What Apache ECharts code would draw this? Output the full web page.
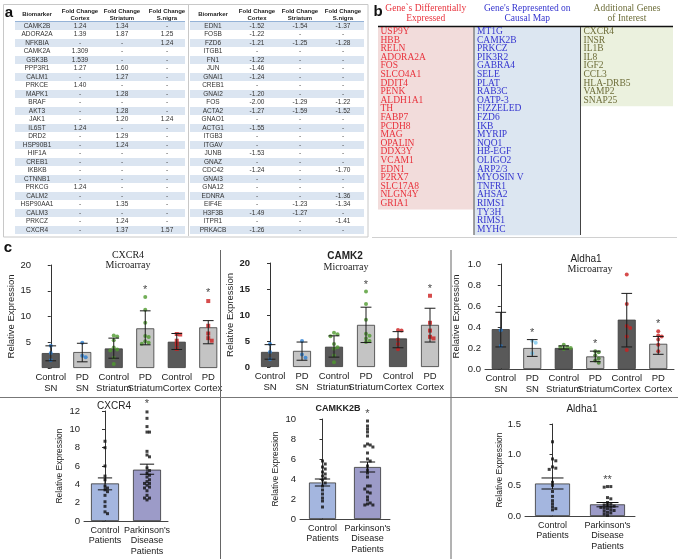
<!DOCTYPE html>
<html><head><meta charset="utf-8">
<script src="https://cdn.jsdelivr.net/npm/echarts/dist/echarts.min.js"></script>
<style>html,body{margin:0;padding:0;background:#fff}#c{width:678px;height:559px}</style>
</head><body><div id="c"></div>
<script>
// ---------- Panel a: fold-change tables ----------
const TABLE_HEADERS = ['Biomarker', 'Fold Change\nCortex', 'Fold Change\nStriatum', 'Fold Change\nS.nigra'];
const TL_BIOMARKER = ['CAMK2B','ADORA2A','NFKBIA','CAMK2A','GSK3B','PPP3R1','CALM1','PRKCE','MAPK1','BRAF','AKT3','JAK1','IL6ST','DRD2','HSP90B1','HIF1A','CREB1','IKBKB','CTNNB1','PRKCG','CALM2','HSP90AA1','CALM3','PRKCZ','CXCR4'];
const TL_CORTEX   = ['1.24','1.39','-','1.309','1.539','1.27','-','1.40','-','-','-','-','1.24','-','-','-','-','-','-','1.24','-','-','-','-','-'];
const TL_STRIATUM = ['1.34','1.87','-','-','-','1.60','1.27','-','1.28','-','1.28','1.20','-','1.29','1.24','-','-','-','-','-','-','1.35','-','1.24','1.37'];
const TL_SNIGRA   = ['-','1.25','1.24','-','-','-','-','-','-','-','-','1.24','-','-','-','-','-','-','-','-','-','-','-','-','1.57'];
const TR_BIOMARKER = ['EDN1','FOSB','FZD6','ITGB1','FN1','JUN','GNAI1','CREB1','GNAI2','FOS','ACTA2','GNAO1','ACTG1','ITGB3','ITGAV','JUNB','GNAZ','CDC42','GNAI3','GNA12','EDNRA','EIF4E','H3F3B','ITPR1','PRKACB'];
const TR_CORTEX   = ['-1.52','-1.22','-1.21','-','-1.22','-1.46','-1.24','-','-1.20','-2.00','-1.27','-','-1.55','-','-','-1.53','-','-1.24','-','-','-','-','-1.49','-','-1.26'];
const TR_STRIATUM = ['-1.54','-','-1.25','-','-','-','-','-','-','-1.29','-1.59','-','-','-','-','-','-','-','-','-','-','-1.23','-1.27','-','-'];
const TR_SNIGRA   = ['-1.37','-','-1.28','-','-','-','-','-','-','-1.22','-1.52','-','-','-','-','-','-','-1.70','-','-','-1.36','-1.34','-','-1.41','-'];

// ---------- Panel b: gene lists ----------
const LIST_HEADERS = ['Gene`s Differentially\nExpressed', "Gene's Represented on\nCausal Map", 'Additional Genes\nof Interest'];
const GENES_DIFF = ['USP9Y','HBB','RELN','ADORA2A','FOS','SLCO4A1','DDIT4','PENK','ALDH1A1','TH','FABP7','PCDH8','MAG','OPALIN','DDX3Y','VCAM1','EDN1','P2RX7','SLC17A8','NLGN4Y','GRIA1'];
const GENES_CAUSAL = ['MT1G','CAMK2B','PRKCZ','PIK3R2','GABRA4','SELE','PLAT','RAB3C','OATP-3','FIZZELED','FZD6','IKB','MYRIP','NQO1','HB-EGF','OLIGO2','ARP2/3','MYOSIN V','TNFR1','AHSA2','RIMS1','TY3H','RIMS1','MYHC'];
const GENES_EXTRA = ['CXCR4','INSR','IL1B','IL8','IGF2','CCL3','HLA-DRB5','VAMP2','SNAP25'];

// ---------- Panel c: microarray ----------
const MICRO_CATS = ['Control\nSN','PD\nSN','Control\nStriatum','PD\nStriatum','Control\nCortex','PD\nCortex'];
const CXCR4_MEAN = [2.9, 3.1, 3.8, 7.7, 5.1, 7.9];
const CXCR4_LOW  = [1.4, 1.2, 1.9, 4.5, 3.6, 4.7];
const CXCR4_HIGH = [4.3, 4.8, 5.8, 11.1, 6.7, 9.2];
const CXCR4_DOTS = [[4.3,2.9,1.5],[4.9,2.4,2.1],[6.3,6.1,5.4,4.0,3.6,3.4,2.0,0.8],[13.8,11.3,8.8,6.2,6.0,5.2,4.9,4.7],[6.6,6.5,5.3,4.6,3.7],[13.0,8.2,6.7,5.8,5.3]];
const CXCR4_STARS = [null,null,null,15.7,null,15.2];

const CAMK2_MEAN = [2.9, 3.1, 3.9, 8.1, 5.5, 8.1];
const CAMK2_LOW  = [1.5, 1.3, 1.9, 4.7, 3.7, 4.8];
const CAMK2_HIGH = [4.3, 4.8, 6.0, 11.5, 6.8, 11.3];
const CAMK2_DOTS = [[4.4,2.9,1.5],[5.0,2.4,1.8],[6.6,6.3,5.9,4.4,3.8,3.5,2.2,0.9],[14.5,12.1,9.1,6.4,6.0,5.5,5.0,4.8],[7.1,7.0,5.3,4.4,3.4],[13.7,8.5,7.0,5.8,5.5]];
const CAMK2_STARS = [null,null,null,16.4,null,15.6];

const ALDHA_MEAN = [0.38, 0.20, 0.20, 0.12, 0.47, 0.24];
const ALDHA_LOW  = [0.21, 0.12, 0.19, 0.07, 0.21, 0.14];
const ALDHA_HIGH = [0.54, 0.28, 0.22, 0.17, 0.72, 0.31];
const ALDHA_DOTS = [[0.37,0.22],[0.27,0.25,0.15],[0.23,0.21,0.21,0.20,0.19],[0.17,0.16,0.13,0.10,0.08,0.06],[0.90,0.62,0.41,0.39,0.31,0.18],[0.36,0.32,0.31,0.28,0.23,0.17]];
const ALDHA_STARS = [null,0.37,null,0.27,null,0.46];

// ---------- Panel c: patients ----------
const PATIENT_CATS = ['Control\nPatients', "Parkinson's\nDisease\nPatients"];
const P_CXCR4_MEAN = [4.1, 5.6];
const P_CXCR4_LOW  = [3.4, 5.1];
const P_CXCR4_HIGH = [4.7, 6.2];
const P_CXCR4_DOTS = [[8.7,8.0,6.0,4.9,4.5,3.8,3.6,3.4,3.2,2.8,2.1,1.6,1.0,0.8],[11.9,11.2,10.3,9.7,9.7,7.6,7.2,7.0,5.8,5.5,5.2,5.0,4.8,4.5,4.3,4.1,4.1,3.9,3.7,3.6,3.3,2.8,2.5,2.5,2.3]];
const P_CXCR4_STARS = [null, 13.1];

const P_CAMKK2B_MEAN = [3.65, 5.2];
const P_CAMKK2B_LOW  = [3.3, 4.7];
const P_CAMKK2B_HIGH = [4.0, 5.7];
const P_CAMKK2B_DOTS = [[5.8,5.5,5.2,5.0,4.7,4.5,4.3,4.1,3.9,3.6,3.3,2.9,2.5,2.1,1.8,1.2],[9.8,9.3,9.0,8.7,8.3,7.5,7.4,7.3,7.2,6.6,6.0,5.8,5.3,4.9,4.6,4.2,3.3,3.3,3.0,2.7,2.6,2.2,1.9,1.6,1.5,1.4,1.4]];
const P_CAMKK2B_STARS = [null, 10.8];

const P_ALDHA_MEAN = [0.53, 0.19];
const P_ALDHA_LOW  = [0.44, 0.15];
const P_ALDHA_HIGH = [0.62, 0.22];
const P_ALDHA_DOTS = [[1.21,0.93,0.90,0.80,0.78,0.76,0.55,0.50,0.40,0.32,0.25,0.20,0.15,0.12,0.10],[0.48,0.48,0.47,0.30,0.28,0.22,0.20,0.18,0.17,0.16,0.15,0.14,0.13,0.12,0.10,0.09,0.08,0.06,0.05,0.03,0.01]];
const P_ALDHA_STARS = [null, 0.64];

// ================= drawing =================
const SANS = '"Liberation Sans", Arial, sans-serif';
const SERIF = '"Liberation Serif", "Times New Roman", serif';
const graphics = [];
function txt(x, y, text, style) {
  graphics.push({type:'text', x:x, y:y, silent:true, z:10,
    style:Object.assign({text:text, fill:'#333', font:'6.5px ' + SANS, textAlign:'center', textVerticalAlign:'middle'}, style || {})});
}
function line(x1, y1, x2, y2, stroke, lw) {
  graphics.push({type:'line', silent:true, z:5, shape:{x1:x1, y1:y1, x2:x2, y2:y2}, style:{stroke:stroke, lineWidth:lw || 1}});
}
function rect(x, y, w, h, fill, stroke) {
  graphics.push({type:'rect', silent:true, z:1, shape:{x:x, y:y, width:w, height:h}, style:{fill:fill || 'none', stroke:stroke || null, lineWidth:1}});
}

// Panel a
rect(3.5, 4.5, 364.5, 232.5, 'none', '#c8c8c8');
line(188.5, 5, 188.5, 236, '#c8c8c8', 1);
txt(9, 13, 'a', {font:'bold 15px ' + SANS, fill:'#111'});
const ROW0 = 21.5, ROWH = 8.5;
function drawTable(cols, shadeX0, shadeX1, columns) {
  TABLE_HEADERS.forEach((h, j) => txt(cols[j], 14.5, h, {font:'bold 6px ' + SANS, lineHeight:7, fill:'#222'}));
  line(shadeX0, ROW0, shadeX1, ROW0, '#95b3d7', 1);
  columns[0].forEach((_, i) => {
    if (i % 2 === 0) rect(shadeX0, ROW0 + i * ROWH + 0.5, shadeX1 - shadeX0, ROWH - 0.5, '#dbe5f1');
    columns.forEach((col, j) => txt(cols[j], ROW0 + i * ROWH + ROWH / 2 + 0.3, col[i]));
  });
}
drawTable([37, 80, 122, 167], 15, 185, [TL_BIOMARKER, TL_CORTEX, TL_STRIATUM, TL_SNIGRA]);
drawTable([213, 257, 300, 343], 190, 364, [TR_BIOMARKER, TR_CORTEX, TR_STRIATUM, TR_SNIGRA]);

// Panel b
txt(378, 12, 'b', {font:'bold 15px ' + SANS, fill:'#111'});
const LIST_COLS = [
  {x0:378, x1:473.5, fill:'#f2dcdb', color:'#e8323c', genes:GENES_DIFF},
  {x0:474.5, x1:580, fill:'#dce6f1', color:'#3535cf', genes:GENES_CAUSAL},
  {x0:581, x1:673, fill:'#ebf1de', color:'#6e6e3a', genes:GENES_EXTRA}
];
const LROW0 = 31.5, LROWH = 8.6;
LIST_COLS.forEach((c, j) => {
  txt((c.x0 + c.x1) / 2, 13.5, LIST_HEADERS[j], {font:'9.5px ' + SERIF, fill:c.color, lineHeight:10});
  const bottom = LROW0 + (c.genes.length - 1) * LROWH + 6;
  rect(c.x0, 27, c.x1 - c.x0, bottom - 27, c.fill);
  c.genes.forEach((g, i) => txt(c.x0 + 2.5, LROW0 + i * LROWH, g, {font:'9.5px ' + SERIF, fill:c.color, textAlign:'left'}));
});
line(378, 26.5, 673, 26.5, '#111', 1.6);
line(474, 27, 474, 235, '#444', 1);
line(580.5, 27, 580.5, 235, '#444', 1);
line(372, 237.5, 677, 237.5, '#d0d0d0', 1);

// Panel c frame
txt(8, 248, 'c', {font:'bold 15px ' + SANS, fill:'#111'});
line(220.5, 250, 220.5, 559, '#666', 1);
line(451, 250, 451, 559, '#666', 1);
line(0, 397.5, 678, 397.5, '#777', 1);
// chart titles
txt(128, 255, 'CXCR4', {font:'10px ' + SERIF, fill:'#222'});
txt(128, 265, 'Microarray', {font:'10px ' + SERIF, fill:'#222'});
txt(345, 256, 'CAMK2', {font:'bold 10px ' + SANS, fill:'#222'});
txt(346, 267, 'Microarray', {font:'10px ' + SERIF, fill:'#222'});
txt(586, 259, 'Aldha1', {font:'10px ' + SANS, fill:'#222'});
txt(590, 269, 'Microarray', {font:'10px ' + SERIF, fill:'#222'});
txt(114, 406, 'CXCR4', {font:'10px ' + SANS, fill:'#222'});
txt(338, 409, 'CAMKK2B', {font:'bold 9px ' + SANS, fill:'#222'});
txt(582, 409, 'Aldha1', {font:'10px ' + SANS, fill:'#222'});

const option = {animation:false, backgroundColor:'#fff', grid:[], xAxis:[], yAxis:[], series:[], graphic:{elements:graphics}};

function swarm(vals, tol, step) {
  const order = vals.map((v, i) => i).sort((a, b) => vals[b] - vals[a]);
  const placed = [], offs = vals.map(() => 0);
  order.forEach(i => {
    const cands = [0];
    for (let k = 1; k < 8; k++) cands.push(k * step, -k * step);
    for (const o of cands) {
      if (!placed.some(p => Math.abs(p.v - vals[i]) < tol && Math.abs(p.o - o) < step * 0.9)) {
        offs[i] = o; placed.push({v:vals[i], o:o}); break;
      }
    }
  });
  return offs;
}
function errRender(capFrac, color, lw) {
  return function (params, api) {
    const x = api.value(0);
    const lo = api.coord([x, api.value(1)]);
    const hi = api.coord([x, api.value(2)]);
    const hw = api.size([1, 0])[0] * capFrac;
    const st = {stroke:color, lineWidth:lw};
    return {type:'group', children:[
      {type:'line', shape:{x1:lo[0], y1:lo[1], x2:hi[0], y2:hi[1]}, style:st},
      {type:'line', shape:{x1:hi[0] - hw, y1:hi[1], x2:hi[0] + hw, y2:hi[1]}, style:st},
      {type:'line', shape:{x1:lo[0] - hw, y1:lo[1], x2:lo[0] + hw, y2:lo[1]}, style:st}
    ]};
  };
}
function addChart(c) {
  const g = option.grid.length;
  option.grid.push({left:c.left, top:c.top, width:c.width, height:c.height});
  const xi = option.xAxis.length;
  option.xAxis.push({type:'category', gridIndex:g, data:c.cats, axisTick:{show:false},
    axisLine:{show:c.xLine, lineStyle:{color:'#444'}},
    axisLabel:{interval:0, fontSize:c.catFont, lineHeight:c.catLH, color:'#222', fontFamily:SANS, margin:c.catMargin}});
  option.xAxis.push({type:'value', gridIndex:g, min:-0.5, max:c.cats.length - 0.5, show:false});
  const yi = option.yAxis.length;
  option.yAxis.push({type:'value', gridIndex:g, min:0, max:c.ymax, interval:c.yint, offset:c.yOffset || 0,
    name:'Relative Expression', nameLocation:'middle', nameGap:c.nameGap,
    nameTextStyle:{fontSize:c.nameFont, fontFamily:c.nameFamily || SANS, color:'#222'},
    axisLine:{show:true, lineStyle:{color:'#333'}}, axisTick:{show:true, length:3, lineStyle:{color:'#333'}},
    splitLine:{show:false},
    axisLabel:{fontSize:c.yFont, color:'#222', fontFamily:SANS, fontWeight:c.yBold ? 'bold' : 'normal', margin:4, formatter:c.yFmt}});
  option.series.push({type:'bar', xAxisIndex:xi, yAxisIndex:yi, barWidth:c.barWidth, z:2, silent:true,
    data:c.mean.map((v, i) => ({value:v, itemStyle:{color:c.barColors[i % c.barColors.length], borderColor:c.barBorder, borderWidth:0.8}}))});
  const dotData = [];
  c.dots.forEach((vals, i) => {
    const offs = swarm(vals, c.tol, c.step);
    vals.forEach((v, k) => dotData.push({value:[i + offs[k], v], symbol:c.dotSymbols[i], itemStyle:{color:c.dotColors[i]}}));
  });
  option.series.push({type:'scatter', xAxisIndex:xi + 1, yAxisIndex:yi, data:dotData, symbolSize:c.dotSize, z:4, silent:true});
  option.series.push({type:'custom', xAxisIndex:xi, yAxisIndex:yi, z:5, silent:true,
    data:c.low.map((l, i) => [i, l, c.high[i]]), encode:{x:0, y:[1, 2]},
    renderItem:errRender(c.capFrac, c.errColor, c.errWidth)});
  const starData = [];
  c.stars.forEach((s, i) => { if (s != null) starData.push([i, s]); });
  option.series.push({type:'scatter', xAxisIndex:xi, yAxisIndex:yi, data:starData, symbolSize:1, clip:false, z:6, silent:true,
    itemStyle:{color:'rgba(0,0,0,0)'},
    label:{show:true, position:'inside', formatter:c.starText, fontSize:11, color:'#111', fontFamily:SANS, offset:[0, 3]}});
}

const MICRO_BARS = ['#595959', '#c4c4c4'];
const microBase = {cats:MICRO_CATS, xLine:false, catFont:9.5, catLH:11, catMargin:4, nameFont:9.5, yFont:9.5,
  barWidth:18, barColors:MICRO_BARS, barBorder:'#3a3a3a', dotSize:4, capFrac:0.17, errColor:'#1a1a1a', errWidth:1, step:0.11, starText:'*'};
addChart(Object.assign({}, microBase, {left:35, top:265, width:189, height:103, ymax:20, yint:5, nameGap:14,
  yFmt:v => v === 0 ? '' : v, mean:CXCR4_MEAN, low:CXCR4_LOW, high:CXCR4_HIGH, dots:CXCR4_DOTS, stars:CXCR4_STARS, tol:0.7,
  dotColors:['#2a7fd4','#2a7fd4','#4f9a2e','#4f9a2e','#cc1f1f','#cc1f1f'], dotSymbols:['circle','circle','circle','circle','rect','rect']}));
addChart(Object.assign({}, microBase, {left:254, top:263, width:192, height:104, ymax:20, yint:5, nameGap:16, yBold:true,
  yFmt:v => v, mean:CAMK2_MEAN, low:CAMK2_LOW, high:CAMK2_HIGH, dots:CAMK2_DOTS, stars:CAMK2_STARS, tol:0.7,
  dotColors:['#2a7fd4','#2a7fd4','#4f9a2e','#4f9a2e','#cc1f1f','#cc1f1f'], dotSymbols:['circle','circle','circle','circle','circle','rect']}));
addChart(Object.assign({}, microBase, {left:485, top:264, width:189, height:105, ymax:1.0, yint:0.2, nameGap:24, xLine:true,
  yFmt:v => v.toFixed(1), mean:ALDHA_MEAN, low:ALDHA_LOW, high:ALDHA_HIGH, dots:ALDHA_DOTS, stars:ALDHA_STARS, tol:0.035,
  dotColors:['#2a7fd4','#7cc8ee','#4f9a2e','#3b7a22','#cc1f1f','#cc1f1f'], dotSymbols:['circle','circle','circle','circle','circle','circle']}));

const patBase = {cats:PATIENT_CATS, xLine:true, catFont:9, catLH:10.5, catMargin:4, nameFont:8.5, yFont:9.5,
  nameFamily:'"Liberation Sans Narrow", "Liberation Sans", sans-serif',
  barColors:['#a4b6df', '#9c9bc8'], barBorder:'#333', dotSize:3, capFrac:0.17, errColor:'#111', errWidth:1,
  dotColors:['#111','#111'], dotSymbols:['rect','rect'], step:0.06, nameGap:20, starText:'*'};
addChart(Object.assign({}, patBase, {left:84, top:411, width:84, height:110, ymax:12, yint:2, barWidth:28,
  yFmt:v => v, mean:P_CXCR4_MEAN, low:P_CXCR4_LOW, high:P_CXCR4_HIGH, dots:P_CXCR4_DOTS, stars:P_CXCR4_STARS, tol:0.35}));
addChart(Object.assign({}, patBase, {left:300, top:419, width:90, height:100, ymax:10, yint:2, barWidth:27,
  yFmt:v => v, mean:P_CAMKK2B_MEAN, low:P_CAMKK2B_LOW, high:P_CAMKK2B_HIGH, dots:P_CAMKK2B_DOTS, stars:P_CAMKK2B_STARS, tol:0.3}));
addChart(Object.assign({}, patBase, {left:525, top:424, width:110, height:92, ymax:1.5, yint:0.5, barWidth:35, capFrac:0.2,
  yFmt:v => v.toFixed(1), mean:P_ALDHA_MEAN, low:P_ALDHA_LOW, high:P_ALDHA_HIGH, dots:P_ALDHA_DOTS, stars:P_ALDHA_STARS, tol:0.045, starText:'**'}));

const chart = echarts.init(document.getElementById('c'), null, {renderer:'canvas'});
chart.setOption(option);
</script></body></html>
